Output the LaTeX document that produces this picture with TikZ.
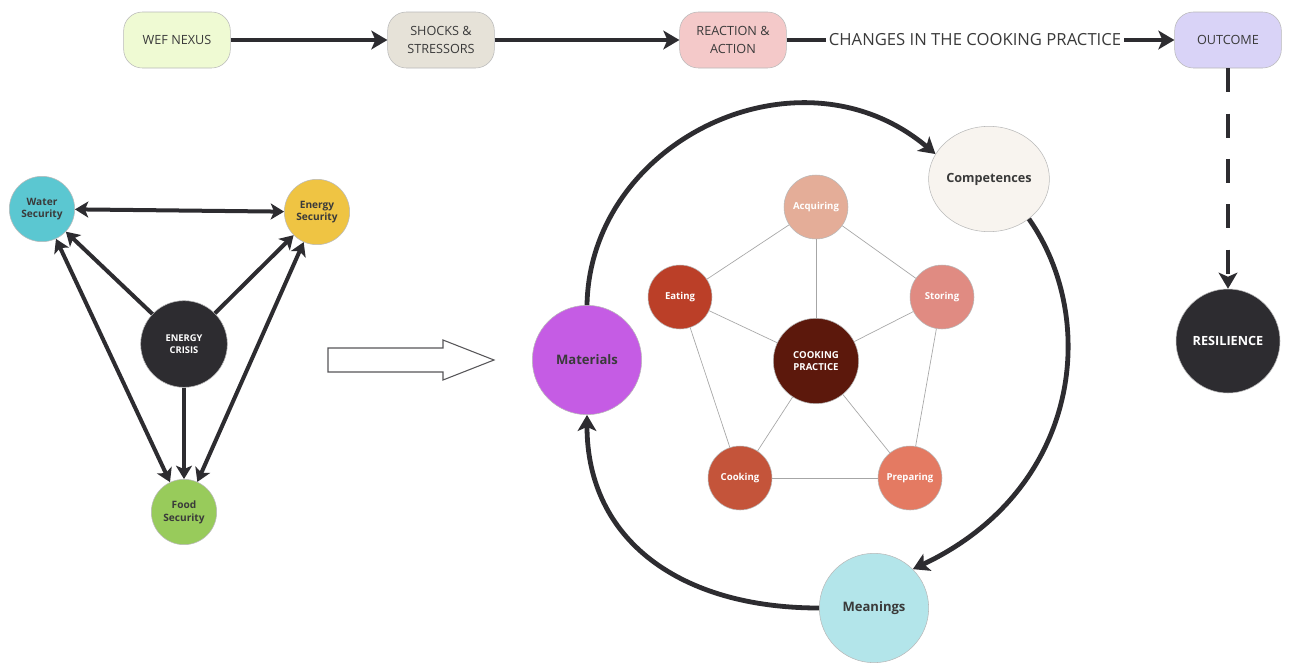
\documentclass[tikz,border=0pt]{standalone}
\usepackage{fontspec}
\setmainfont{Open Sans}
\usetikzlibrary{arrows.meta,shapes.geometric}
\definecolor{dark}{HTML}{2D2C30}
\definecolor{wefc}{HTML}{EFFAD3}
\definecolor{shockc}{HTML}{E6E2D8}
\definecolor{reactc}{HTML}{F4C9C9}
\definecolor{outc}{HTML}{D9D3F7}
\definecolor{waterc}{HTML}{5BC7D1}
\definecolor{energyc}{HTML}{EFC443}
\definecolor{foodc}{HTML}{98CB5B}
\definecolor{matc}{HTML}{C55CE4}
\definecolor{compc}{HTML}{F8F4EF}
\definecolor{meanc}{HTML}{B3E5EA}
\definecolor{cpc}{HTML}{5C180C}
\definecolor{acqc}{HTML}{E4AD98}
\definecolor{storc}{HTML}{E08B82}
\definecolor{eatc}{HTML}{BB3F28}
\definecolor{cookc}{HTML}{C4543A}
\definecolor{prepc}{HTML}{E47A62}
\definecolor{txtc}{HTML}{3A3A3A}
\tikzset{
  stagebox/.style={draw=gray!55, line width=0.4pt, rounded corners=14pt, minimum width=80pt, minimum height=42pt, align=center, font=\fontsize{9.5}{13}\selectfont, text=txtc},
  blob/.style={circle, draw=gray!55, line width=0.4pt, align=center, inner sep=0pt},
  small/.style={blob, minimum size=49pt, font=\bfseries\fontsize{7.6}{9.6}\selectfont},
  pent/.style={blob, minimum size=48pt, font=\bfseries\fontsize{7.2}{8.5}\selectfont, text=white},
  big/.style={blob, minimum size=82pt, font=\bfseries\fontsize{9.8}{11}\selectfont, text=txtc},
  thick arrow/.style={draw=dark, line width=3.6pt, -{Stealth[length=12pt,width=14pt,inset=3pt]}},
  thick both/.style={draw=dark, line width=3pt, {Stealth[length=10pt,width=12pt,inset=2.5pt]}-{Stealth[length=10pt,width=12pt,inset=2.5pt]}},
  mid arrow/.style={draw=dark, line width=3pt, -{Stealth[length=10pt,width=12pt,inset=2.5pt]}},
  thin link/.style={draw=gray!70, line width=0.5pt},
}
\begin{document}
\begin{tikzpicture}[x=0.75pt,y=-0.75pt]
\useasboundingbox[fill=white] (0,0) rectangle (1290,665);
% top flow
\node[stagebox, fill=wefc] (wef) at (177,40) {WEF NEXUS};
\node[stagebox, fill=shockc] (shock) at (441,40) {SHOCKS \&\\STRESSORS};
\node[stagebox, fill=reactc] (react) at (733,40) {REACTION \&\\ACTION};
\node[font=\fontsize{12.5}{14}\selectfont, text=txtc, inner sep=2pt] (chg) at (975,40) {CHANGES IN THE COOKING PRACTICE};
\node[stagebox, fill=outc] (out) at (1228,40) {OUTCOME};
\node[blob, fill=dark, minimum size=78pt, text=white, font=\bfseries\fontsize{9.5}{11}\selectfont] (res) at (1228,341) {RESILIENCE};
\draw[thick arrow] (wef) -- (shock);
\draw[thick arrow] (shock) -- (react);
\draw[draw=dark, line width=3.6pt] (react) -- (chg);
\draw[thick arrow] (chg) -- (out);
\draw[thick arrow, dash pattern=on 18pt off 16pt] (out) -- (res);
% left triangle
\node[small, fill=waterc, text=txtc] (water) at (42,209) {Water\\Security};
\node[small, fill=energyc, text=txtc] (energy) at (317,212) {Energy\\Security};
\node[small, fill=foodc, text=txtc] (food) at (184,512) {Food\\Security};
\node[blob, fill=dark, minimum size=65pt, text=white, font=\bfseries\fontsize{7}{9}\selectfont] (crisis) at (184,344) {ENERGY\\CRISIS};
\draw[thick both] (water) -- (energy);
\draw[thick both] (water) -- (food);
\draw[thick both] (energy) -- (food);
\draw[mid arrow] (crisis) -- (water);
\draw[mid arrow] (crisis) -- (energy);
\draw[mid arrow] (crisis) -- (food);
% hollow arrow
\draw[draw=dark!80, line width=0.8pt, fill=white] (328,348) -- (443,348) -- (443,340) -- (494,360) -- (443,380) -- (443,372) -- (328,372) -- cycle;
% cooking practice
\node[blob, fill=cpc, minimum size=64pt, text=white, font=\bfseries\fontsize{7.2}{9}\selectfont] (cp) at (816,361) {COOKING\\PRACTICE};
\node[pent, fill=acqc] (acq) at (816,207) {Acquiring};
\node[pent, fill=storc] (stor) at (942,297) {Storing};
\node[pent, fill=prepc] (prep) at (910,478) {Preparing};
\node[pent, fill=cookc] (cook) at (740,478) {Cooking};
\node[pent, fill=eatc] (eat) at (680,297) {Eating};
\draw[thin link] (acq) -- (stor);
\draw[thin link] (stor) -- (prep);
\draw[thin link] (prep) -- (cook);
\draw[thin link] (cook) -- (eat);
\draw[thin link] (eat) -- (acq);
\foreach \n in {acq,stor,prep,cook,eat} \draw[thin link] (cp) -- (\n);
% outer cycle
\node[big, fill=matc] (mat) at (587,360) {Materials};
\node[blob, fill=compc, minimum width=88pt, minimum height=79pt, ellipse, font=\bfseries\fontsize{9.5}{11}\selectfont, text=txtc] (comp) at (989,179) {Competences};
\node[big, fill=meanc] (mean) at (874,608) {Meanings};
\draw[thick arrow] (mat.north) .. controls (590,140) and (800,40) .. (comp.155);
\draw[thick arrow] (comp.-45) .. controls (1100,320) and (1080,490) .. (mean.45);
\draw[thick arrow] (mean.west) .. controls (680,608) and (587,540) .. (mat.south);
\end{tikzpicture}
\end{document}
